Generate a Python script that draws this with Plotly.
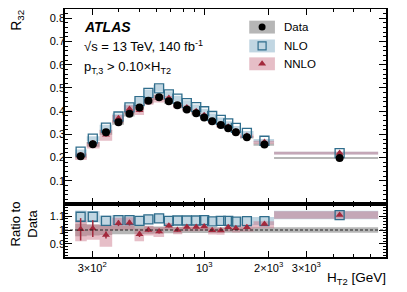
import numpy as np
import plotly.graph_objects as go

# ---------------- data ----------------
ht2_centers = [265, 302, 348, 398, 448, 499, 549, 616, 684, 750, 830, 918,
               1000, 1090, 1196, 1295, 1406, 1583, 1912, 4290]
ht2_edges = [250, 283, 325, 372, 422, 473, 524, 580, 650, 716, 790, 873, 958,
             1044, 1142, 1245, 1350, 1470, 1700, 2120, 6490]
r32_data = [0.206, 0.257, 0.309, 0.352, 0.389, 0.416, 0.445, 0.460, 0.443,
            0.425, 0.407, 0.391, 0.373, 0.357, 0.340, 0.326, 0.309, 0.288,
            0.256, 0.198]
data_rel_unc = [0.045, 0.04, 0.035, 0.03, 0.03, 0.028, 0.026, 0.025, 0.024,
                0.023, 0.022, 0.022, 0.021, 0.021, 0.02, 0.02, 0.02, 0.02,
                0.02, 0.02]
nlo_ratio = [1.095, 1.095, 1.066, 1.071, 1.071, 1.066, 1.076, 1.083, 1.066,
             1.068, 1.068, 1.068, 1.071, 1.062, 1.066, 1.066, 1.060, 1.064,
             1.064, 1.107]
nlo_rel_unc = [0.04, 0.038, 0.036, 0.034, 0.032, 0.031, 0.03, 0.03, 0.029,
               0.028, 0.028, 0.027, 0.027, 0.027, 0.027, 0.027, 0.027, 0.027,
               0.027, 0.027]
nnlo_ratio = [1.005, 1.01, 0.965, 1.048, 1.052, 0.97, 1.0, 0.99, 1.03, 1.0,
              1.022, 1.022, 1.025, 0.998, 0.997, 1.02, 1.012, 1.02, 1.043,
              1.107]
nnlo_unc_up = [0.065, 0.03, 0.07, 0.04, 0.04, 0.04, 0.03, 0.03, 0.02, 0.02,
               0.02, 0.02, 0.02, 0.02, 0.02, 0.02, 0.02, 0.02, 0.02, 0.027]
nnlo_unc_dn = [0.085, 0.08, 0.085, 0.05, 0.05, 0.05, 0.04, 0.04, 0.03, 0.03,
               0.03, 0.03, 0.03, 0.03, 0.03, 0.03, 0.03, 0.03, 0.03, 0.027]
nnlo_stat = [0.08, 0.06, 0.025, 0.02, 0.02, 0.02, 0.015, 0.015, 0.012, 0.012,
             0.01, 0.01, 0.01, 0.01, 0.01, 0.01, 0.01, 0.01, 0.01, 0.005]

x_ticks = [300, 1000, 2000, 3000]
x_ticktext = ["3×10<sup>2</sup>", "10<sup>3</sup>", "2×10<sup>3</sup>", "3×10<sup>3</sup>"]
x_minor = [400, 500, 600, 700, 800, 900, 4000, 5000, 6000, 7000]

# ---------------- derived ----------------
data = np.array(r32_data)
nlo = data * np.array(nlo_ratio)
nnlo = data * np.array(nnlo_ratio)
lo_e = ht2_edges[:-1]
hi_e = ht2_edges[1:]

FONT = "Liberation Sans, Arial, sans-serif"
GREY = "rgba(110,110,110,0.5)"
BLUE = "rgba(125,170,195,0.48)"
PINK = "rgba(200,110,130,0.45)"
NLO_C = "#2f6d8c"
NNLO_C = "#a3293c"


def rects(lows, highs):
    xs, ys = [], []
    for a, b, l, h in zip(lo_e, hi_e, lows, highs):
        xs += [a, b, b, a, a, None]
        ys += [l, l, h, h, l, None]
    return xs, ys


fig = go.Figure()


def band(lows, highs, color, xa, ya):
    xs, ys = rects(lows, highs)
    fig.add_trace(go.Scatter(x=xs, y=ys, fill="toself", fillcolor=color,
                             line=dict(width=0), mode="lines",
                             hoverinfo="skip", showlegend=False,
                             xaxis=xa, yaxis=ya))


du = np.array(data_rel_unc)
nu = np.array(nlo_rel_unc)
up = np.array(nnlo_unc_up)
dn = np.array(nnlo_unc_dn)
st = np.array(nnlo_stat)

# main panel
band(data * (1 - du), data * (1 + du), GREY, "x", "y")
band(nlo * (1 - nu), nlo * (1 + nu), BLUE, "x", "y")
band(nnlo * (1 - dn), nnlo * (1 + up), PINK, "x", "y")
fig.add_trace(go.Scatter(x=ht2_centers, y=nlo, mode="markers",
                         marker=dict(symbol="square-open", size=9, color=NLO_C,
                                     line=dict(width=1.3, color=NLO_C)),
                         showlegend=False, xaxis="x", yaxis="y"))
fig.add_trace(go.Scatter(x=ht2_centers, y=nnlo, mode="markers",
                         marker=dict(symbol="triangle-up", size=7, color=NNLO_C),
                         error_y=dict(type="data", array=nnlo * st, color=NNLO_C,
                                      thickness=1.5, width=0),
                         showlegend=False, xaxis="x", yaxis="y"))
fig.add_trace(go.Scatter(x=ht2_centers, y=data, mode="markers",
                         marker=dict(symbol="circle", size=8, color="black"),
                         showlegend=False, xaxis="x", yaxis="y"))

# ratio panel
band(1 - du, 1 + du, GREY, "x2", "y2")
band(np.array(nlo_ratio) * (1 - nu), np.array(nlo_ratio) * (1 + nu), BLUE, "x2", "y2")
band(np.array(nnlo_ratio) - dn, np.array(nnlo_ratio) + up, PINK, "x2", "y2")
fig.add_trace(go.Scatter(x=ht2_centers, y=nlo_ratio, mode="markers",
                         marker=dict(symbol="square-open", size=9, color=NLO_C,
                                     line=dict(width=1.3, color=NLO_C)),
                         showlegend=False, xaxis="x2", yaxis="y2"))
fig.add_trace(go.Scatter(x=ht2_centers, y=nnlo_ratio, mode="markers",
                         marker=dict(symbol="triangle-up", size=7, color=NNLO_C),
                         error_y=dict(type="data", array=st, color=NNLO_C,
                                      thickness=1.5, width=0),
                         showlegend=False, xaxis="x2", yaxis="y2"))

# legend (overlay axis in plot-area fractions)
leg_names = ["Data", "NLO", "NNLO"]
leg_y = [0.927, 0.851, 0.779]
leg_fill = [GREY, BLUE, PINK]
leg_marker = [dict(symbol="circle", size=7, color="black"),
              dict(symbol="square-open", size=8, color=NLO_C, line=dict(width=1.2, color=NLO_C)),
              dict(symbol="triangle-up", size=7, color=NNLO_C)]
sx0, sx1, sh = 0.574, 0.654, 0.026
for name, yy, fc, mk in zip(leg_names, leg_y, leg_fill, leg_marker):
    fig.add_trace(go.Scatter(x=[sx0, sx1, sx1, sx0, sx0], y=[yy - sh, yy - sh, yy + sh, yy + sh, yy - sh],
                             fill="toself", fillcolor=fc, line=dict(width=0), mode="lines",
                             hoverinfo="skip", showlegend=False, xaxis="x3", yaxis="y3"))
    fig.add_trace(go.Scatter(x=[(sx0 + sx1) / 2], y=[yy], mode="markers", marker=mk,
                             showlegend=False, xaxis="x3", yaxis="y3"))
    fig.add_annotation(x=0.676, y=yy, xref="paper", yref="paper", text=name,
                       showarrow=False, xanchor="left", yanchor="middle",
                       font=dict(family=FONT, size=11.5, color="black"))

xrange = [np.log10(224), np.log10(7063)]
axis_common = dict(showline=True, linecolor="black", linewidth=1.5, mirror="allticks",
                   ticks="inside", tickcolor="black", tickwidth=1, showgrid=False,
                   zeroline=False, automargin=False,
                   tickfont=dict(family=FONT, size=11, color="black"))

split = 53 / 248
# the page body has an 8px margin, so the figure is sized/offset to fit the window
fig.update_layout(
    template="none",
    width=399, height=284,
    margin=dict(l=57, r=21, t=1, b=35, autoexpand=False),
    paper_bgcolor="white", plot_bgcolor="rgba(0,0,0,0)",
    showlegend=False,
    xaxis=dict(type="log", range=xrange, domain=[0, 1], anchor="y",
               tickvals=x_ticks, ticktext=x_ticktext, showticklabels=False, ticklen=6,
               minor=dict(tickvals=x_minor, ticklen=3, ticks="inside", tickcolor="black",
                          showgrid=False),
               **axis_common),
    yaxis=dict(range=[0, 0.84], domain=[split, 1], anchor="x",
               tickvals=[0.1, 0.2, 0.3, 0.4, 0.5, 0.6, 0.7, 0.8], ticklen=7,
               ticklabelstandoff=-4,
               minor=dict(dtick=0.02, tick0=0, ticklen=3.5, ticks="inside", tickcolor="black",
                          showgrid=False),
               **axis_common),
    xaxis2=dict(type="log", range=xrange, domain=[0, 1], anchor="y2",
                tickvals=x_ticks, ticktext=x_ticktext, ticklen=6,
                minor=dict(tickvals=x_minor, ticklen=3, ticks="inside", tickcolor="black",
                           showgrid=False),
                **axis_common),
    yaxis2=dict(range=[0.807, 1.186], domain=[0, split], anchor="x2",
                tickvals=[0.9, 1.0, 1.1], ticktext=["0.9", "1", "1.1"], ticklen=7,
                ticklabelstandoff=-4,
                minor=dict(dtick=0.02, tick0=0.8, ticklen=3.5, ticks="inside", tickcolor="black",
                           showgrid=False),
                **axis_common),
    xaxis3=dict(domain=[0, 1], range=[0, 1], anchor="y3", visible=False, fixedrange=True,
                showgrid=False, zeroline=False),
    yaxis3=dict(domain=[0, 1], range=[0, 1], anchor="x3", visible=False, fixedrange=True,
                showgrid=False, zeroline=False),
)

fig.add_shape(type="line", xref="x2 domain", yref="y2", x0=0, x1=1, y0=1, y1=1,
              line=dict(color="#222222", width=1, dash="3px,2px"))

ann = [
    dict(x=0.053, y=0.927, text="<b><i>ATLAS</i></b>", size=14),
    dict(x=0.053, y=0.849, text="√s = 13 TeV, 140 fb<sup>-1</sup>", size=13),
    dict(x=0.053, y=0.765, text="p<sub>T,3</sub> > 0.10×H<sub>T2</sub>", size=13),
]
for a in ann:
    fig.add_annotation(x=a["x"], y=a["y"], xref="paper", yref="paper", text=a["text"],
                       showarrow=False, xanchor="left", yanchor="middle",
                       font=dict(family=FONT, size=a["size"], color="black"))

fig.add_annotation(x=-0.15, y=0.956, xref="paper", yref="paper", text="R<sub>32</sub>",
                   textangle=-90, showarrow=False, xanchor="center", yanchor="middle",
                   font=dict(family=FONT, size=14, color="black"))
fig.add_annotation(x=-0.128, y=0.135, xref="paper", yref="paper", text="Ratio to<br>Data",
                   textangle=-90, showarrow=False, xanchor="center", yanchor="middle",
                   font=dict(family=FONT, size=13, color="black"))
fig.add_annotation(x=1.005, y=-0.085, xref="paper", yref="paper", text="H<sub>T2</sub> [GeV]",
                   showarrow=False, xanchor="right", yanchor="middle",
                   font=dict(family=FONT, size=13.5, color="black"))

fig.write_html("out.html")
